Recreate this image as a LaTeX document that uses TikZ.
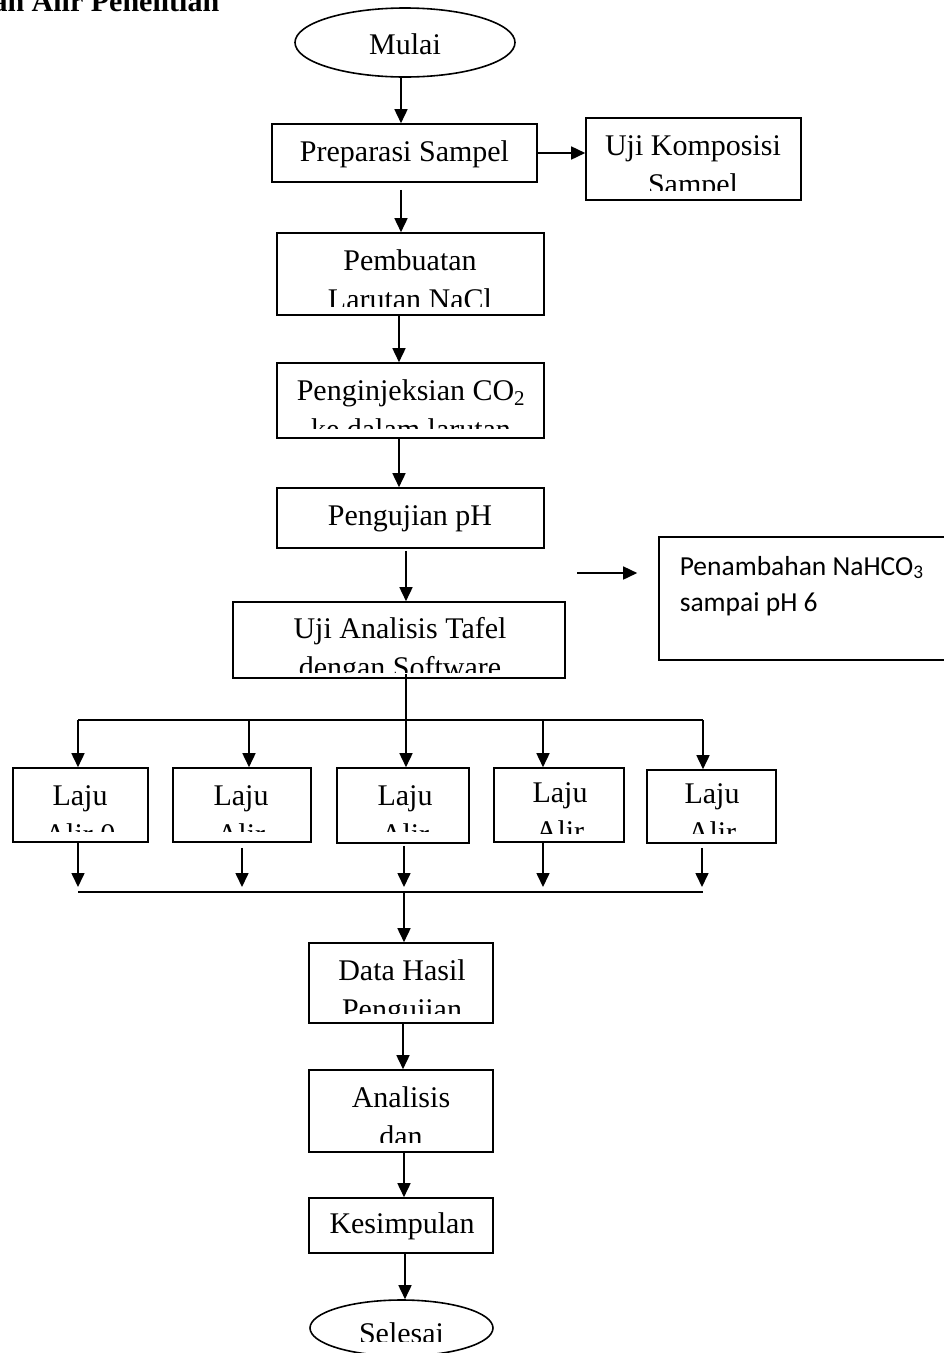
\documentclass[tikz,border=0pt]{standalone}
\usepackage{fontspec}
\setmainfont{Liberation Serif}
\newfontfamily\calibrifont{Carlito}
\usetikzlibrary{arrows.meta,fit,shapes.geometric}
\begin{document}
\begin{tikzpicture}[x=1pt,y=-1pt,line width=1.6pt,
  boxst/.style={draw,inner sep=0pt},
  ellst/.style={draw,ellipse,inner sep=0pt},
  txt/.style={inner sep=0pt,anchor=base,font=\fontsize{30}{36}\selectfont},
  sans/.style={inner sep=0pt,anchor=base west,font=\calibrifont\fontsize{27.5}{33}\selectfont},
  arr/.style={-{Triangle[length=14pt,width=13pt]}}]
\useasboundingbox (0,0) rectangle (944,1353);
\clip (0,0) rectangle (944,1353);
% title
\node[inner sep=0pt,anchor=base east,font=\bfseries\fontsize{30}{36}\selectfont] (title) at (220,11.5) {Bagan Alir Penelitian};
% start / end
\node[ellst,minimum width=220pt,minimum height=69pt] (start) at (405,42.5) {};
\node[txt] (tstart) at (405,54) {Mulai};
\node[ellst,minimum width=183pt,minimum height=56pt] (end) at (401.5,1328) {};
% boxes
\node[boxst,fit={(272,124) (537,182)}] (prep) {};
\node[boxst,fit={(586,118) (801,200)}] (uji) {};
\node[boxst,fit={(277,233) (544,315)}] (pemb) {};
\node[boxst,fit={(277,363) (544,438)}] (inj) {};
\node[boxst,fit={(277,488) (544,548)}] (ph) {};
\node[boxst,fit={(233,602) (565,678)}] (tafel) {};
\node[boxst,fit={(659,537) (960,660)}] (nah) {};
\node[boxst,fit={(13,768) (148,842)}] (l1) {};
\node[boxst,fit={(173,768) (311,842)}] (l2) {};
\node[boxst,fit={(337,768) (469,843)}] (l3) {};
\node[boxst,fit={(494,768) (624,842)}] (l4) {};
\node[boxst,fit={(647,770) (776,843)}] (l5) {};
\node[boxst,fit={(309,943) (493,1023)}] (data) {};
\node[boxst,fit={(309,1070) (493,1152)}] (anal) {};
\node[boxst,fit={(309,1198) (493,1253)}] (kes) {};
% texts
\node[txt] (tprep) at (404.5,161) {Preparasi Sampel};
\begin{scope}\clip (586,118) rectangle (801,190.7);
\node[txt] (tuji1) at (693,155) {Uji Komposisi};
\node[txt] (tuji2) at (693,194.5) {Sampel};
\end{scope}
\begin{scope}\clip (277,233) rectangle (544,306);
\node[txt] (tpemb1) at (410,270) {Pembuatan};
\node[txt] (tpemb2) at (410,309.5) {Larutan NaCl};
\end{scope}
\begin{scope}\clip (277,363) rectangle (544,428);
\node[txt] (tinj1) at (411,400) {Penginjeksian CO\textsubscript{2}};
\node[txt] (tinj2) at (411,439.5) {ke dalam larutan};
\end{scope}
\node[txt] (tph) at (410,525) {Pengujian pH};
\begin{scope}\clip (233,602) rectangle (565,672);
\node[txt] (ttaf1) at (400,638) {Uji Analisis Tafel};
\node[txt] (ttaf2) at (400,677.5) {dengan Software};
\end{scope}
\node[sans] (tnah1) at (679,575) {Penambahan NaHCO\textsubscript{3}};
\node[sans] (tnah2) at (679,611) {sampai pH 6};
\begin{scope}\clip (13,768) rectangle (776,831);
\node[txt] (tl1a) at (80,805) {Laju};
\node[txt] (tl1b) at (80,844.5) {Alir 0};
\node[txt] (tl2a) at (241,805) {Laju};
\node[txt] (tl2b) at (241,844.5) {Alir};
\node[txt] (tl3a) at (405,805) {Laju};
\node[txt] (tl3b) at (405,844.5) {Alir};
\end{scope}
\begin{scope}\clip (494,768) rectangle (776,833);
\node[txt] (tl4a) at (560,802) {Laju};
\node[txt] (tl4b) at (560,841.5) {Alir};
\node[txt] (tl5a) at (712,803) {Laju};
\node[txt] (tl5b) at (712,842.5) {Alir};
\end{scope}
\begin{scope}\clip (309,943) rectangle (493,1013);
\node[txt] (tdata1) at (402,980) {Data Hasil};
\node[txt] (tdata2) at (402,1019.5) {Pengujian};
\end{scope}
\begin{scope}\clip (309,1070) rectangle (493,1142);
\node[txt] (tanal1) at (401,1107) {Analisis};
\node[txt] (tanal2) at (401,1146.5) {dan};
\end{scope}
\node[txt] (tkes) at (402,1233) {Kesimpulan};
\begin{scope}\clip (310,1300) rectangle (493,1341);
\node[txt] (tend) at (401.5,1343) {Selesai};
\end{scope}
% connectors
\coordinate (xA) at (401,0);
\coordinate (xB) at (399,0);
\coordinate (xC) at (406,0);
\coordinate (xD) at (403,0);
\coordinate (xE) at (404,0);
\coordinate (xF) at (405,0);
\draw[arr] (start.south -| xA) -- (prep.north -| xA);
\draw[arr] (prep.east) -- (prep.east -| uji.west);
\draw[arr,shorten <=7pt] (prep.south -| xA) -- (pemb.north -| xA);
\draw[arr] (pemb.south -| xB) -- (inj.north -| xB);
\draw[arr] (inj.south -| xB) -- (ph.north -| xB);
\draw[arr,shorten <=2pt] (ph.south -| xC) -- (tafel.north -| xC);
\coordinate (fa) at (577,573);
\draw[arr,shorten >=21pt] (fa) -- (fa -| nah.west);
% branch
\coordinate (brL) at (78,720);
\coordinate (brR) at (703,720);
\coordinate (brC) at (406,720);
\coordinate (t2) at (249,720);
\coordinate (t4) at (543,720);
\draw[shorten <=-5pt] (tafel.south -| brC) -- (brC);
\draw (brL) -- (brR);
\draw[arr] (brL) -- (brL |- l1.north);
\draw[arr] (t2) -- (t2 |- l2.north);
\draw[arr] (brC) -- (brC |- l3.north);
\draw[arr] (t4) -- (t4 |- l4.north);
\draw[arr] (brR) -- (brR |- l5.north);
% join
\coordinate (jL) at (78,892);
\coordinate (jR) at (703,892);
\coordinate (jC) at (404,892);
\coordinate (u2) at (242,892);
\coordinate (u4) at (543,892);
\coordinate (u5) at (702,892);
\draw (jL) -- (jR);
\draw[arr,shorten >=5pt] (l1.south -| jL) -- (jL);
\draw[arr,shorten <=5pt,shorten >=5pt] (l2.south -| u2) -- (u2);
\draw[arr,shorten <=2pt,shorten >=5pt] (l3.south -| jC) -- (jC);
\draw[arr,shorten >=5pt] (l4.south -| u4) -- (u4);
\draw[arr,shorten <=4pt,shorten >=5pt] (l5.south -| u5) -- (u5);
\draw[arr] (jC) -- (data.north -| jC);
\draw[arr] (data.south -| xD) -- (anal.north -| xD);
\draw[arr] (anal.south -| xE) -- (kes.north -| xE);
\draw[arr] (kes.south -| xF) -- (end.north -| xF);
\end{tikzpicture}
\end{document}
